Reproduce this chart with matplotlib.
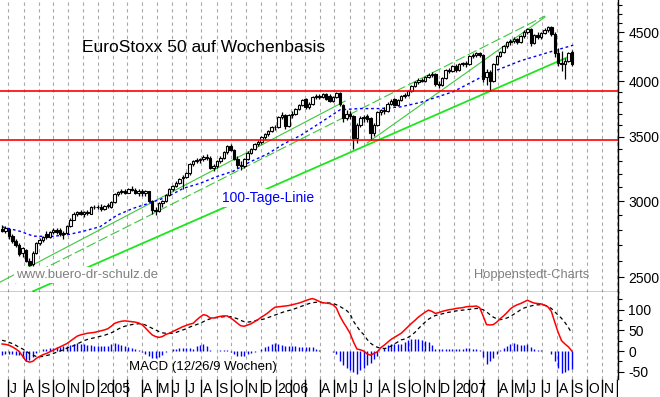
import numpy as np
import pandas as pd
import matplotlib
matplotlib.use("Agg")
import matplotlib.pyplot as plt
from matplotlib.ticker import FixedLocator, FixedFormatter, NullFormatter

plt.rcParams['font.family'] = ['Liberation Sans', 'DejaVu Sans']

# ---------------- data ----------------
weeks = pd.date_range('2004-06-18', periods=168, freq='7D')

opens = [2805, 2795, 2805, 2760, 2725, 2700, 2650, 2670, 2600, 2580,
         2650, 2710, 2735, 2775, 2750, 2785, 2800, 2800, 2770, 2780,
         2825, 2870, 2910, 2920, 2910, 2920, 2910, 2955, 2960, 2955,
         2945, 2965, 2960, 2990, 3050, 3065, 3075, 3060, 3085, 3080,
         3060, 3070, 3055, 3070, 3000, 2935, 2930, 2985, 3000, 3045,
         3090, 3110, 3135, 3170, 3180, 3205, 3280, 3300, 3310, 3320,
         3335, 3330, 3250, 3260, 3300, 3330, 3375, 3420, 3390, 3320,
         3270, 3260, 3320, 3370, 3400, 3440, 3460, 3500, 3520, 3550,
         3580, 3580, 3670, 3690, 3590, 3690, 3700, 3740, 3780, 3830,
         3760, 3790, 3850, 3860, 3850, 3880, 3860, 3810, 3850, 3890,
         3780, 3660, 3700, 3680, 3490, 3600, 3660, 3680, 3660, 3530,
         3600, 3710, 3730, 3720, 3790, 3830, 3780, 3820, 3860, 3870,
         3910, 3950, 3990, 4010, 4000, 4040, 4060, 4070, 3970, 3960,
         4030, 4110, 4100, 4150, 4110, 4170, 4180, 4170, 4250, 4260,
         4280, 4260, 4040, 4090, 4000, 4170, 4250, 4290, 4350, 4390,
         4400, 4420, 4390, 4460, 4500, 4530, 4380, 4470, 4450, 4490,
         4520, 4550, 4480, 4280, 4180, 4170, 4200, 4290]
highs = [2830, 2825, 2810, 2775, 2740, 2710, 2690, 2675, 2615, 2660,
         2720, 2745, 2760, 2790, 2790, 2810, 2815, 2815, 2790, 2830,
         2880, 2920, 2930, 2935, 2930, 2935, 2965, 2975, 2975, 2980,
         2975, 2985, 3000, 3060, 3075, 3090, 3090, 3095, 3110, 3095,
         3085, 3090, 3080, 3075, 3010, 2960, 2990, 3010, 3050, 3095,
         3120, 3145, 3170, 3190, 3215, 3290, 3310, 3325, 3330, 3350,
         3355, 3340, 3275, 3310, 3340, 3385, 3430, 3440, 3400, 3340,
         3300, 3330, 3380, 3410, 3450, 3470, 3510, 3530, 3560, 3590,
         3600, 3680, 3710, 3700, 3700, 3720, 3750, 3790, 3830, 3840,
         3800, 3860, 3880, 3880, 3890, 3890, 3880, 3860, 3900, 3900,
         3790, 3730, 3720, 3690, 3620, 3680, 3690, 3700, 3670, 3620,
         3720, 3740, 3760, 3800, 3830, 3840, 3830, 3870, 3890, 3920,
         3960, 4000, 4030, 4030, 4050, 4080, 4090, 4075, 4000, 4040,
         4120, 4130, 4160, 4170, 4180, 4190, 4200, 4260, 4280, 4290,
         4290, 4270, 4120, 4110, 4180, 4260, 4300, 4360, 4400, 4420,
         4450, 4440, 4470, 4520, 4540, 4540, 4480, 4500, 4500, 4540,
         4570, 4560, 4500, 4330, 4300, 4230, 4290, 4310]
lows = [2785, 2780, 2740, 2715, 2690, 2630, 2625, 2590, 2565, 2570,
        2640, 2700, 2720, 2740, 2745, 2770, 2770, 2760, 2740, 2775,
        2820, 2865, 2895, 2900, 2890, 2900, 2905, 2940, 2945, 2930,
        2935, 2950, 2950, 2985, 3040, 3050, 3050, 3055, 3070, 3050,
        3040, 3040, 3040, 2990, 2910, 2900, 2925, 2960, 2995, 3040,
        3075, 3100, 3125, 3090, 3170, 3195, 3265, 3285, 3290, 3305,
        3310, 3240, 3225, 3250, 3290, 3320, 3360, 3380, 3310, 3250,
        3230, 3250, 3310, 3360, 3390, 3420, 3440, 3470, 3510, 3540,
        3560, 3575, 3650, 3570, 3580, 3660, 3690, 3730, 3770, 3740,
        3740, 3780, 3830, 3830, 3840, 3820, 3800, 3800, 3840, 3770,
        3630, 3640, 3650, 3400, 3450, 3580, 3630, 3630, 3470, 3510,
        3590, 3690, 3700, 3710, 3780, 3770, 3770, 3810, 3840, 3860,
        3900, 3940, 3975, 3990, 3990, 4030, 4040, 3950, 3930, 3950,
        4020, 4080, 4090, 4090, 4100, 4150, 4140, 4160, 4230, 4240,
        4240, 3990, 3960, 3905, 3990, 4160, 4240, 4280, 4330, 4360,
        4380, 4370, 4380, 4440, 4480, 4350, 4370, 4430, 4420, 4480,
        4500, 4460, 4240, 4150, 4100, 4020, 4190, 4150]
closes = [2795, 2810, 2760, 2725, 2700, 2645, 2680, 2600, 2575, 2650,
          2710, 2735, 2755, 2750, 2785, 2800, 2785, 2770, 2780, 2825,
          2870, 2910, 2920, 2910, 2920, 2915, 2955, 2960, 2955, 2945,
          2965, 2975, 2990, 3050, 3065, 3075, 3060, 3085, 3080, 3060,
          3070, 3055, 3070, 3000, 2935, 2930, 2985, 3000, 3045, 3090,
          3110, 3135, 3160, 3180, 3205, 3280, 3300, 3310, 3320, 3335,
          3330, 3250, 3260, 3300, 3330, 3375, 3420, 3390, 3320, 3270,
          3260, 3320, 3370, 3400, 3440, 3460, 3500, 3520, 3550, 3580,
          3580, 3670, 3690, 3590, 3690, 3700, 3740, 3780, 3820, 3760,
          3790, 3850, 3860, 3850, 3880, 3830, 3810, 3850, 3890, 3790,
          3660, 3700, 3680, 3490, 3600, 3660, 3670, 3650, 3530, 3600,
          3710, 3730, 3720, 3790, 3810, 3780, 3820, 3860, 3870, 3910,
          3950, 3990, 4010, 4000, 4040, 4060, 4070, 3970, 3960, 4030,
          4110, 4100, 4150, 4110, 4170, 4180, 4170, 4250, 4260, 4280,
          4260, 4020, 4090, 4000, 4170, 4250, 4290, 4350, 4390, 4400,
          4420, 4390, 4460, 4500, 4530, 4380, 4470, 4450, 4490, 4520,
          4550, 4480, 4280, 4180, 4170, 4200, 4280, 4170]

macd = [17, 16, 14, 10, 5, -1, -12, -24, -27, -25,
        -18, -13, -9, -6, -2, 2, 6, 10, 14, 18,
        24, 30, 36, 39, 41, 43, 44, 45, 47, 49,
        51, 54, 60, 67, 70, 72, 73, 72, 71, 70,
        68, 64, 56, 47, 39, 35, 33, 35, 40, 43,
        47, 51, 55, 59, 62, 65, 67, 75, 82, 88,
        86, 80, 80, 82, 84, 85, 85, 80, 74, 67,
        61, 60, 63, 66, 71, 76, 82, 87, 93, 100,
        106, 107, 108, 109, 110, 112, 114, 116, 119, 122,
        125, 127, 124, 120, 117, 116, 115, 112, 104, 85,
        70, 57, 43, 22, 5, 3, 0, -7, -10, -6,
        -2, 8, 14, 21, 28, 33, 38, 43, 51, 59,
        67, 74, 82, 88, 94, 99, 96, 91, 93, 96,
        98, 100, 101, 103, 104, 105, 107, 108, 108, 109,
        105, 85, 64, 63, 64, 70, 78, 85, 93, 102,
        108, 112, 115, 119, 123, 119, 116, 115, 114, 111,
        107, 96, 70, 45, 25, 17, 10, 0]
signal = [26, 24, 21, 18, 14, 9, 5, 0, -6, -10,
          -13, -14, -13, -11, -9, -6, -3, 0, 3, 7,
          10, 13, 17, 21, 25, 28, 30, 32, 34, 36,
          38, 41, 44, 48, 53, 57, 60, 62, 64, 65,
          66, 66, 63, 59, 55, 51, 47, 44, 43, 43,
          43, 45, 48, 51, 54, 58, 61, 64, 67, 71,
          75, 78, 80, 81, 82, 83, 83, 83, 81, 78,
          74, 71, 70, 71, 73, 75, 76, 78, 81, 84,
          87, 90, 93, 96, 98, 100, 103, 106, 109, 112,
          115, 117, 118, 118, 117, 117, 116, 115, 112, 108,
          103, 98, 90, 72, 60, 48, 40, 28, 19, 13,
          9, 7, 6, 7, 12, 17, 22, 27, 29, 33,
          38, 45, 54, 62, 70, 77, 82, 86, 88, 90,
          92, 94, 95, 97, 98, 99, 100, 101, 102, 103,
          103, 100, 95, 88, 82, 78, 76, 77, 80, 84,
          89, 94, 100, 104, 107, 109, 111, 112, 112, 111,
          108, 103, 95, 87, 79, 69, 57, 43]

ma_dates = pd.to_datetime([
    '2004-06-18', '2004-07-25', '2004-08-21', '2004-09-24', '2004-10-29',
    '2004-12-01', '2005-01-05', '2005-02-09', '2005-03-14', '2005-04-18',
    '2005-05-23', '2005-06-25', '2005-07-29', '2005-09-02', '2005-10-05',
    '2005-11-09', '2005-12-14', '2006-01-16', '2006-02-20', '2006-04-02',
    '2006-05-13', '2006-06-23', '2006-08-03', '2006-09-13', '2006-10-24',
    '2006-12-31', '2007-03-11', '2007-05-18', '2007-07-24', '2007-09-03'])
ma_values = [2820, 2790, 2758, 2755, 2766, 2790, 2821, 2900, 2948, 2987,
             3030, 3093, 3130, 3182, 3222, 3296, 3357, 3439, 3510, 3620,
             3735, 3745, 3745, 3760, 3800, 3900, 4070, 4200, 4300, 4360]

# trend lines (start/end date, start/end level)
bright_dates = pd.to_datetime(['2004-08-21', '2007-09-02'])
bright_levels = [2417, 4259]
thin1_dates = pd.to_datetime(['2004-06-14', '2006-05-23'])
thin1_levels = [2470, 3813]
thin2_dates = pd.to_datetime(['2004-07-15', '2007-07-07'])
thin2_levels = [2464, 4676]
thin3_dates = pd.to_datetime(['2006-07-07', '2007-07-07'])
thin3_levels = [3448, 4665]

hline_levels = [3905, 3472]

price_major = [2500, 3000, 3500, 4000, 4500]
price_minor = list(range(2400, 4900, 100))
macd_major = [-50, 0, 50, 100]
macd_minor = [-75, -25, 25, 75, 125]

month_ticks = pd.date_range('2004-07-01', '2007-12-01', freq='MS')
month_labels = ['J', 'A', 'S', 'O', 'N', 'D',
                '2005', '', '', 'A', 'M', 'J', 'J', 'A', 'S', 'O', 'N', 'D',
                '2006', '', '', 'A', 'M', 'J', 'J', 'A', 'S', 'O', 'N', 'D',
                '2007', '', '', 'A', 'M', 'J', 'J', 'A', 'S', 'O', 'N', '']

# ---------------- figure ----------------
W, H = 660, 397
fig = plt.figure(figsize=(W / 100, H / 100), dpi=100)
ax = fig.add_axes([0, 105 / H, 618 / W, 292 / H])
axm = fig.add_axes([0, 18 / H, 618 / W, 87 / H], sharex=ax)
axl = fig.add_axes([0, 0, 618 / W, 18 / H], sharex=ax)

xmin = pd.Timestamp('2004-06-13 18:00')
xmax = pd.Timestamp('2007-12-03 19:00')
ax.set_xlim(xmin, xmax)

grid_kw = dict(colors='#a8a8a8', linewidth=0.8, linestyles=(0, (3, 3)), zorder=0)

# ---- price panel ----
ax.set_yscale('log')
ax.set_ylim(2412, 4859)
ax.vlines(month_ticks, 0, 1, transform=ax.get_xaxis_transform(), **grid_kw)

for lev in hline_levels:
    ax.axhline(lev, color='#ff0000', lw=1.2, zorder=5)

ax.plot(thin1_dates, thin1_levels, color='#3cc83c', lw=0.8, zorder=2)
ax.plot(thin2_dates, thin2_levels, color='#3cc83c', lw=0.8, dashes=(9, 3), zorder=2)
ax.plot(thin3_dates, thin3_levels, color='#3cc83c', lw=0.8, zorder=2)
ax.plot(bright_dates, bright_levels, color='#1ee61e', lw=1.3, zorder=2)
ax.plot(ma_dates, ma_values, color='#0000ff', lw=1.0, dashes=(2, 2), zorder=2)

o = np.array(opens, float)
c = np.array(closes, float)
hi = np.array(highs, float)
lo = np.array(lows, float)
up = c >= o
ax.vlines(weeks, lo, hi, color='black', lw=0.9, zorder=3)
body_w = pd.Timedelta(days=5.0)
ax.bar(weeks[up], np.maximum(c[up] - o[up], 1), bottom=o[up], width=body_w,
       facecolor='white', edgecolor='black', linewidth=0.8, zorder=4)
ax.bar(weeks[~up], o[~up] - c[~up], bottom=c[~up], width=body_w,
       facecolor='black', edgecolor='black', linewidth=0.8, zorder=4)

ax.text(82 / 618, 1 - 48 / 292, 'EuroStoxx 50 auf Wochenbasis', transform=ax.transAxes,
        ha='left', va='center', fontsize=12.5, color='black', zorder=6)
ax.text(222 / 618, 1 - 198 / 292, '100-Tage-Linie', transform=ax.transAxes,
        ha='left', va='center', fontsize=10, color='#0000ff', zorder=6,
        bbox=dict(facecolor='white', edgecolor='none', pad=1.5))
ax.text(16 / 618, 1 - 275 / 292, 'www.buero-dr-schulz.de', transform=ax.transAxes,
        ha='left', va='center', fontsize=9.5, color='#808080', zorder=6,
        bbox=dict(facecolor='white', edgecolor='none', pad=1.5))
ax.text(474 / 618, 1 - 275 / 292, 'Hoppenstedt-Charts', transform=ax.transAxes,
        ha='left', va='center', fontsize=9.3, color='#808080', zorder=6)

for s in ['top', 'left']:
    ax.spines[s].set_visible(False)
ax.spines['bottom'].set_linewidth(1.0)
ax.spines['right'].set_linewidth(1.0)
ax.tick_params(axis='x', bottom=False, labelbottom=False)
ax.yaxis.tick_right()
ax.yaxis.set_major_locator(FixedLocator(price_major))
ax.yaxis.set_major_formatter(FixedFormatter([str(v) for v in price_major]))
ax.yaxis.set_minor_locator(FixedLocator(price_minor))
ax.yaxis.set_minor_formatter(NullFormatter())
ax.tick_params(axis='y', which='major', direction='out', length=4.5, width=0.8,
               labelsize=10, pad=3)
ax.tick_params(axis='y', which='minor', direction='out', length=3, width=0.8)

# ---- MACD panel ----
axm.set_ylim(-67.8, 142.9)
axm.vlines(month_ticks, 0, 1, transform=axm.get_xaxis_transform(), **grid_kw)
hist = np.array(macd, float) - np.array(signal, float)
axm.vlines(weeks, 0, hist, color='#0000ff', lw=1.0, zorder=2)
axm.plot(weeks, signal, color='black', lw=0.9, dashes=(3, 2.5), zorder=3)
axm.plot(weeks, macd, color='#ff0000', lw=1.1, zorder=4)
axm.text(129 / 618, 0.14, 'MACD (12/26/9 Wochen)', transform=axm.transAxes,
         ha='left', va='center', fontsize=9.5, color='black', zorder=6)
for s in ['top', 'left', 'bottom']:
    axm.spines[s].set_visible(False)
axm.spines['right'].set_linewidth(1.0)
axm.tick_params(axis='x', bottom=False, labelbottom=False)
axm.yaxis.tick_right()
axm.yaxis.set_major_locator(FixedLocator(macd_major))
axm.yaxis.set_major_formatter(FixedFormatter([str(v) for v in macd_major]))
axm.yaxis.set_minor_locator(FixedLocator(macd_minor))
axm.tick_params(axis='y', which='major', direction='out', length=4.5, width=0.8,
                labelsize=10, pad=3)
axm.tick_params(axis='y', which='minor', direction='out', length=3, width=0.8)

# ---- month label row ----
axl.set_ylim(0, 1)
axl.axis('off')
axl.vlines(month_ticks, 0, 1, colors='black', lw=1.0)
for d, lab in zip(month_ticks, month_labels):
    if lab:
        axl.text(d + pd.Timedelta(days=3), 0.45, lab, ha='left', va='center',
                 fontsize=10, color='black')

fig.savefig('out.png', dpi=100, facecolor='white')
